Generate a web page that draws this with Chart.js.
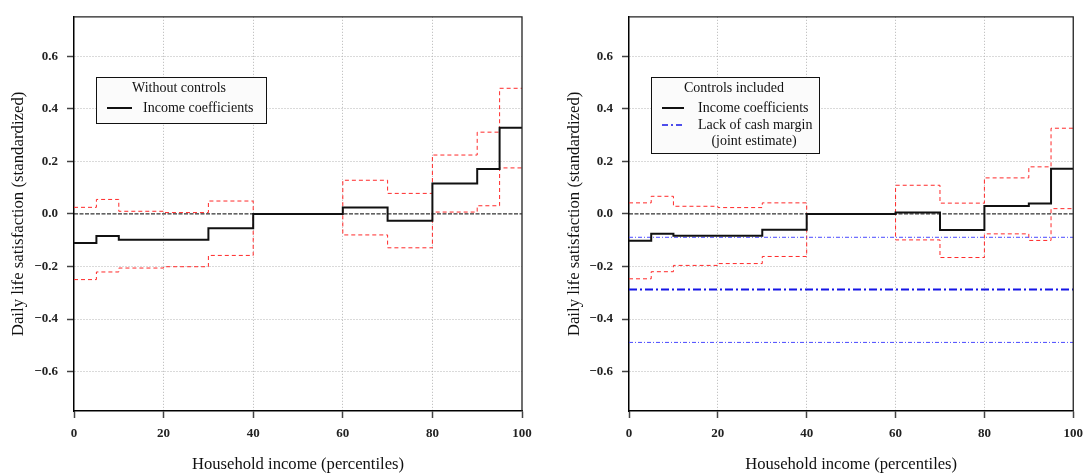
<!DOCTYPE html>
<html><head><meta charset="utf-8">
<script src="https://cdn.jsdelivr.net/npm/chart.js@4/dist/chart.umd.min.js"></script>
<style>
html,body{margin:0;padding:0;background:#fff;}
#wrap{position:relative;width:1091px;height:476px;overflow:hidden;}
canvas{position:absolute;top:0;}
</style></head><body>
<div id="wrap">
<canvas id="c1" width="545" height="476" style="left:0;width:545px;height:476px"></canvas>
<canvas id="c2" width="546" height="476" style="left:545px;width:546px;height:476px"></canvas>
</div>
<script>
// ---- data ----
const binStarts = [0, 5, 10, 20, 30, 40, 60, 70, 80, 90, 95];
const binEnd = 100;

// Panel 1: without controls
const noCtrlCoef  = [-0.111, -0.084, -0.098, -0.098, -0.055, 0, 0.024, -0.026, 0.116, 0.171, 0.328];
const noCtrlUpper = [0.025, 0.055, 0.010, 0.005, 0.049, 0, 0.128, 0.078, 0.224, 0.311, 0.478];
const noCtrlLower = [-0.250, -0.221, -0.206, -0.201, -0.158, 0, -0.080, -0.129, 0.007, 0.031, 0.175];

// Panel 2: controls included
const ctrlCoef  = [-0.102, -0.076, -0.083, -0.083, -0.060, 0, 0.005, -0.061, 0.030, 0.040, 0.172];
const ctrlUpper = [0.042, 0.067, 0.029, 0.024, 0.042, 0, 0.109, 0.041, 0.137, 0.179, 0.326];
const ctrlLower = [-0.247, -0.220, -0.196, -0.189, -0.162, 0, -0.099, -0.166, -0.076, -0.101, 0.020];

// Lack of cash margin (joint estimate) with its interval
const cashMargin      = -0.288;
const cashMarginUpper = -0.089;
const cashMarginLower = -0.489;

const xTicks = [0, 20, 40, 60, 80, 100];
const yTicks = [-0.6, -0.4, -0.2, 0, 0.2, 0.4, 0.6];
const yMin = -0.75, yMax = 0.75;

const xTitle = 'Household income (percentiles)';
const yTitle = 'Daily life satisfaction (standardized)';

// ---- helpers ----
function stepPoints(vals) {
  const pts = binStarts.map((x, i) => ({x: x, y: vals[i]}));
  pts.push({x: binEnd, y: vals[vals.length - 1]});
  return pts;
}
function flatPoints(v) { return [{x: 0, y: v}, {x: binEnd, y: v}]; }

const SERIF = "'Liberation Serif', 'DejaVu Serif', serif";
const RED = '#ff2a2a';

function ciDataset(vals) {
  return {data: stepPoints(vals), stepped: 'before', borderColor: RED, borderWidth: 1,
          borderDash: [4, 3], pointRadius: 0, order: 5};
}
function coefDataset(vals) {
  return {data: stepPoints(vals), stepped: 'before', borderColor: '#111', borderWidth: 2,
          pointRadius: 0, order: 0};
}
function zeroDataset() {
  return {data: flatPoints(0), borderColor: '#000', borderWidth: 1, borderDash: [4, 1.5],
          pointRadius: 0, order: 3};
}

function makeScales(plotLeft, yTitlePad) {
  return {
    x: {
      type: 'linear', min: 0, max: 100,
      afterBuildTicks: s => { s.ticks = xTicks.map(v => ({value: v})); },
      afterFit: s => { s.height = 65; },
      grid: {
        color: c => (c.tick && (c.tick.value === 0 || c.tick.value === 100)) ? 'rgba(0,0,0,0)' : '#b5b5b5',
        lineWidth: 1, tickLength: 7, tickColor: '#444', tickWidth: 1.5, tickBorderDash: []
      },
      border: {display: true, color: '#000', width: 1.5, dash: [1, 2]},
      ticks: {font: {family: SERIF, size: 13, weight: 'bold'}, color: '#222', padding: 8,
              maxRotation: 0, callback: v => String(v)},
      title: {display: true, text: xTitle, font: {family: SERIF, size: 16.6}, color: '#111',
              padding: {top: 0, bottom: 1}}
    },
    y: {
      type: 'linear', min: yMin, max: yMax,
      afterBuildTicks: s => { s.ticks = yTicks.map(v => ({value: v})); },
      afterFit: s => { s.width = plotLeft; },
      grid: {
        color: c => (c.tick && Math.abs(c.tick.value) < 1e-9) ? 'rgba(0,0,0,0)' : '#b5b5b5',
        lineWidth: 1, tickLength: 7, tickColor: '#444', tickWidth: 1.5, tickBorderDash: []
      },
      border: {display: true, color: '#000', width: 1.5, dash: [1, 2]},
      ticks: {font: {family: SERIF, size: 13, weight: 'bold'}, color: '#222', padding: 9,
              callback: v => (v < -1e-9 ? '\u2212' : '') + Math.abs(v).toFixed(1)},
      title: {display: true, text: yTitle, font: {family: SERIF, size: 16.8}, color: '#111',
              padding: {top: yTitlePad, bottom: 0}}
    }
  };
}

// frame around the plotting area
const framePlugin = {
  id: 'frame',
  afterDatasetsDraw(chart) {
    const {ctx, chartArea: a} = chart;
    ctx.save();
    ctx.strokeStyle = '#222';
    ctx.lineWidth = 1.3;
    ctx.setLineDash([]);
    ctx.beginPath();
    ctx.moveTo(a.left, a.top); ctx.lineTo(a.right, a.top); ctx.lineTo(a.right, a.bottom);
    ctx.stroke();
    ctx.restore();
  }
};

function legendPlugin(spec) {
  return {
    id: 'boxLegend',
    afterDraw(chart) {
      const ctx = chart.ctx;
      ctx.save();
      ctx.fillStyle = '#fbfbfb';
      ctx.fillRect(spec.x, spec.y, spec.w, spec.h);
      ctx.strokeStyle = '#111';
      ctx.lineWidth = 1;
      ctx.setLineDash([]);
      ctx.strokeRect(spec.x + 0.5, spec.y + 0.5, spec.w, spec.h);
      ctx.font = '14px ' + SERIF;
      ctx.fillStyle = '#111';
      ctx.textBaseline = 'middle';
      ctx.textAlign = 'center';
      ctx.fillText(spec.title, spec.titleX, spec.titleY);
      spec.items.forEach(it => {
        if (it.line) {
          ctx.save();
          ctx.strokeStyle = it.line.color;
          ctx.lineWidth = it.line.width;
          ctx.setLineDash(it.line.dash || []);
          ctx.beginPath();
          ctx.moveTo(spec.lineX1, it.y); ctx.lineTo(spec.lineX2, it.y);
          ctx.stroke();
          ctx.restore();
        }
        ctx.textAlign = it.center ? 'center' : 'left';
        ctx.fillText(it.text, it.center ? it.cx : spec.textX, it.y);
      });
      ctx.restore();
    }
  };
}

Chart.defaults.animation = false;
Chart.defaults.events = [];
Chart.defaults.plugins.legend.display = false;
Chart.defaults.plugins.tooltip.enabled = false;

// ---- panel 1 ----
new Chart(document.getElementById('c1'), {
  type: 'line',
  data: {datasets: [
    coefDataset(noCtrlCoef),
    zeroDataset(),
    ciDataset(noCtrlUpper),
    ciDataset(noCtrlLower)
  ]},
  options: {
    responsive: false, maintainAspectRatio: false,
    layout: {padding: {top: 10, right: 23, left: 0, bottom: 0}},
    scales: makeScales(74, 9)
  },
  plugins: [framePlugin, legendPlugin({
    x: 96, y: 77, w: 170, h: 46, title: 'Without controls', titleX: 179, titleY: 88,
    lineX1: 107, lineX2: 132, textX: 143,
    items: [{text: 'Income coefficients', y: 108, line: {color: '#111', width: 2}}]
  })]
});

// ---- panel 2 ----
new Chart(document.getElementById('c2'), {
  type: 'line',
  data: {datasets: [
    coefDataset(ctrlCoef),
    zeroDataset(),
    {data: flatPoints(cashMargin), borderColor: '#1515e6', borderWidth: 2, borderDash: [8, 3, 2, 3], pointRadius: 0, order: 2},
    {data: flatPoints(cashMarginUpper), borderColor: '#4a4aff', borderWidth: 1, borderDash: [4, 2, 1, 2], pointRadius: 0, order: 4},
    {data: flatPoints(cashMarginLower), borderColor: '#4a4aff', borderWidth: 1, borderDash: [4, 2, 1, 2], pointRadius: 0, order: 4},
    ciDataset(ctrlUpper),
    ciDataset(ctrlLower)
  ]},
  options: {
    responsive: false, maintainAspectRatio: false,
    layout: {padding: {top: 10, right: 16, left: 0, bottom: 0}},
    scales: makeScales(84, 20)
  },
  plugins: [framePlugin, legendPlugin({
    x: 106, y: 77, w: 168, h: 76, title: 'Controls included', titleX: 189, titleY: 88,
    lineX1: 117, lineX2: 139, textX: 153,
    items: [
      {text: 'Income coefficients', y: 108, line: {color: '#111', width: 2}},
      {text: 'Lack of cash margin', y: 125, line: {color: '#1515e6', width: 1.5, dash: [6, 3, 2, 3]}},
      {text: '(joint estimate)', y: 141, center: true, cx: 209}
    ]
  })]
});
</script>
</body></html>
